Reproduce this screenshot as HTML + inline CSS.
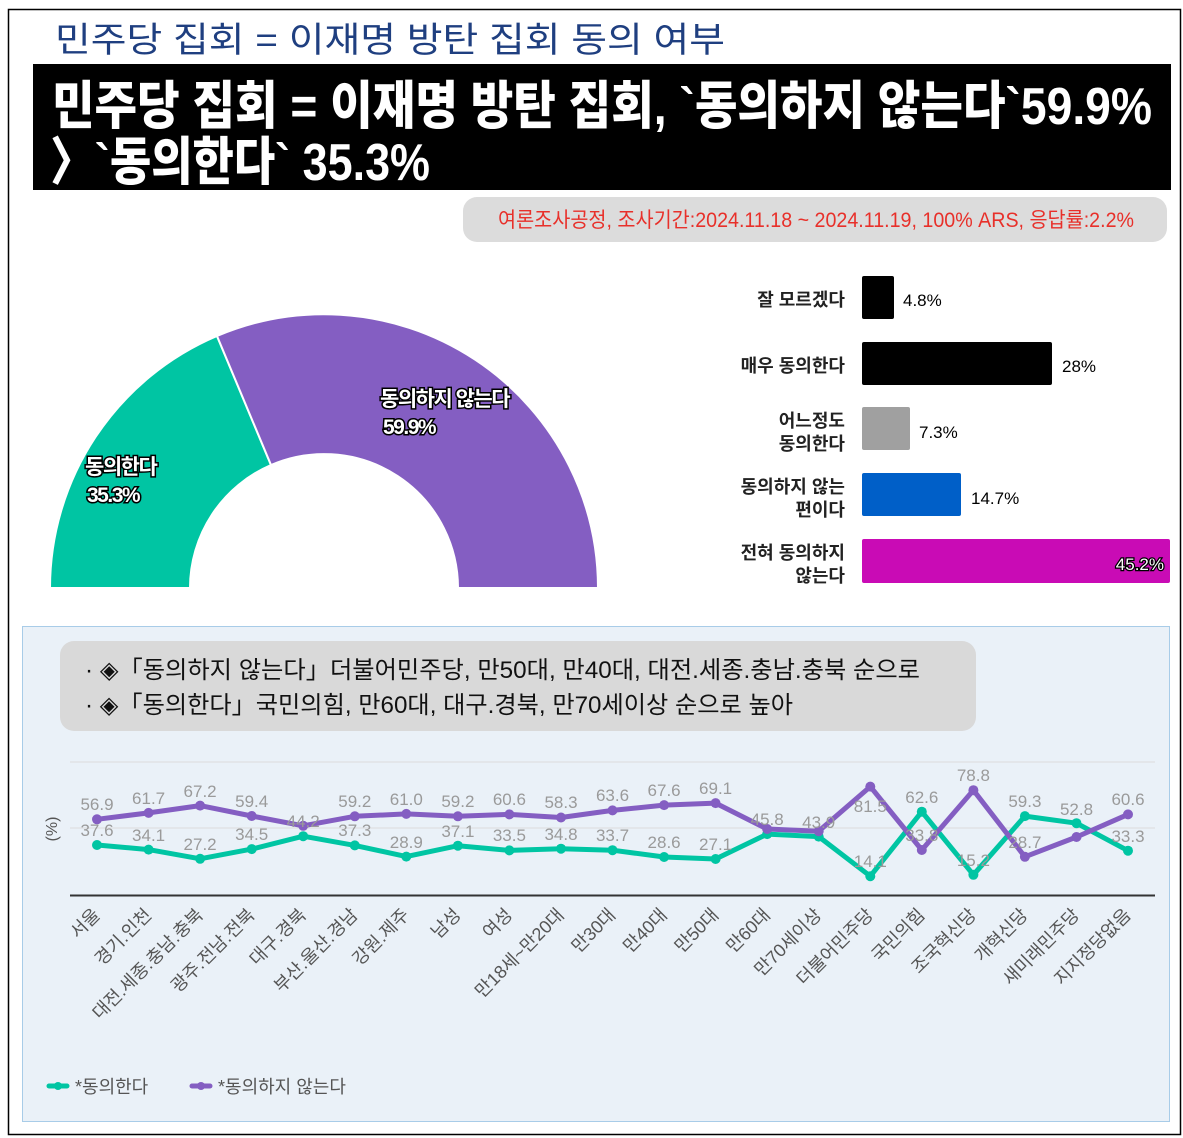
<!DOCTYPE html>
<html><head><meta charset="utf-8"><style>
html,body{margin:0;padding:0;background:#fff;}
svg{display:block;font-family:"Liberation Sans","Noto Sans CJK KR",sans-serif;}
</style></head><body>
<svg width="1183" height="1138" viewBox="0 0 1183 1138" xmlns="http://www.w3.org/2000/svg">
<rect x="8.5" y="9.5" width="1172" height="1125" fill="#fff" stroke="#000" stroke-width="1.5"/>
<text x="55" y="52" font-size="35" fill="#1f3f80" textLength="670" lengthAdjust="spacingAndGlyphs" font-family="Liberation Sans, Noto Sans CJK KR, sans-serif">민주당 집회 = 이재명 방탄 집회 동의 여부</text>
<rect x="33" y="64" width="1138" height="126" fill="#000"/>
<text x="52" y="124" font-size="52" font-weight="900" fill="#fff" textLength="1100" lengthAdjust="spacingAndGlyphs">민주당 집회 = 이재명 방탄 집회, `동의하지 않는다`59.9%</text>
<text x="50" y="180" font-size="52" font-weight="900" fill="#fff" textLength="380" lengthAdjust="spacingAndGlyphs">〉`동의한다` 35.3%</text>
<rect x="463" y="197" width="704" height="45" rx="14" fill="#dcdcdc"/>
<text x="498" y="227" font-size="21" fill="#e8302a" textLength="636" lengthAdjust="spacingAndGlyphs">여론조사공정, 조사기간:2024.11.18 ~ 2024.11.19, 100% ARS, 응답률:2.2%</text>

<path d="M50,588 A274,274 0 0 1 217,336 L271,465 A134,134 0 0 0 190,588 Z" fill="#00c5a3" stroke="#fff" stroke-width="2"/>
<path d="M217,336 A274,274 0 0 1 598,588 L458,588 A134,134 0 0 0 271,465 Z" fill="#845ec2" stroke="#fff" stroke-width="2"/>
<g font-size="21" font-weight="bold" fill="#fff" stroke="#000" stroke-width="3" paint-order="stroke" letter-spacing="-1.5">
<text x="380" y="406">동의하지 않는다</text>
<text x="383" y="434">59.9%</text>
<text x="85" y="474">동의한다</text>
<text x="87" y="502">35.3%</text>
</g>

<g font-size="18" fill="#222" text-anchor="end" font-weight="bold">
<text x="845" y="306">잘 모르겠다</text>
<text x="845" y="372">매우 동의한다</text>
<text x="845" y="427">어느정도</text>
<text x="845" y="450">동의한다</text>
<text x="845" y="493">동의하지 않는</text>
<text x="845" y="516">편이다</text>
<text x="845" y="559">전혀 동의하지</text>
<text x="845" y="582">않는다</text>
</g>
<rect x="862" y="276" width="32" height="43" rx="2" fill="#000"/>
<rect x="862" y="342" width="190" height="43" rx="2" fill="#000"/>
<rect x="862" y="407" width="48" height="43" rx="2" fill="#a0a0a0"/>
<rect x="862" y="473" width="99" height="43" rx="2" fill="#005fc8"/>
<rect x="862" y="539" width="308" height="44" rx="2" fill="#c90bb5"/>
<g font-size="17" fill="#000">
<text x="903" y="306">4.8%</text>
<text x="1062" y="372">28%</text>
<text x="919" y="438">7.3%</text>
<text x="971" y="504">14.7%</text>
</g>
<text x="1164" y="570" font-size="17" fill="#fff" stroke="#000" stroke-width="2.5" paint-order="stroke" text-anchor="end">45.2%</text>

<rect x="22.5" y="626.5" width="1147" height="495" fill="#eaf1f8" stroke="#a8cce8"/>
<rect x="60" y="641" width="916" height="90" rx="14" fill="#d9d9d9"/>
<g font-size="24" fill="#111">
<text x="85" y="678" textLength="835" lengthAdjust="spacingAndGlyphs">· ◈「동의하지 않는다」더불어민주당, 만50대, 만40대, 대전.세종.충남.충북 순으로</text>
<text x="85" y="713" textLength="708" lengthAdjust="spacingAndGlyphs">· ◈「동의한다」국민의힘, 만60대, 대구.경북, 만70세이상 순으로 높아</text>
</g>
<line x1="70" y1="762" x2="1155" y2="762" stroke="#dcdcdc"/>
<line x1="70" y1="828" x2="1155" y2="828" stroke="#dcdcdc"/>
<line x1="70" y1="895.5" x2="1155" y2="895.5" stroke="#333" stroke-width="2"/>
<text transform="translate(57,829) rotate(-90)" font-size="16" fill="#555" text-anchor="middle">(%)</text>

<polyline fill="none" stroke="#00c5a3" stroke-width="5" stroke-linejoin="round" points="97,845 148.6,849.6 200.1,858.8 251.7,849.1 303.2,836.2 354.8,845.4 406.3,856.6 457.9,845.7 509.4,850.4 561,848.7 612.5,850.2 664.1,857 715.6,859 767.2,834.1 818.7,836.6 870.3,876.2 921.8,811.7 973.4,874.8 1024.9,816.1 1076.5,823.2 1128,850.7"/>
<polyline fill="none" stroke="#845ec2" stroke-width="5" stroke-linejoin="round" points="97,819.3 148.6,812.9 200.1,805.6 251.7,816 303.2,825.8 354.8,816.3 406.3,813.9 457.9,816.3 509.4,814.4 561,817.5 612.5,810.4 664.1,805.1 715.6,803.1 767.2,829 818.7,831.2 870.3,786.6 921.8,850 973.4,790.2 1024.9,856.8 1076.5,837 1128,814.4"/>
<g fill="#00c5a3">
<circle cx="97" cy="845" r="5"/><circle cx="148.6" cy="849.6" r="5"/><circle cx="200.1" cy="858.8" r="5"/><circle cx="251.7" cy="849.1" r="5"/><circle cx="303.2" cy="836.2" r="5"/><circle cx="354.8" cy="845.4" r="5"/><circle cx="406.3" cy="856.6" r="5"/><circle cx="457.9" cy="845.7" r="5"/><circle cx="509.4" cy="850.4" r="5"/><circle cx="561" cy="848.7" r="5"/><circle cx="612.5" cy="850.2" r="5"/><circle cx="664.1" cy="857" r="5"/><circle cx="715.6" cy="859" r="5"/><circle cx="767.2" cy="834.1" r="5"/><circle cx="818.7" cy="836.6" r="5"/><circle cx="870.3" cy="876.2" r="5"/><circle cx="921.8" cy="811.7" r="5"/><circle cx="973.4" cy="874.8" r="5"/><circle cx="1024.9" cy="816.1" r="5"/><circle cx="1076.5" cy="823.2" r="5"/><circle cx="1128" cy="850.7" r="5"/>
</g>
<g fill="#845ec2">
<circle cx="97" cy="819.3" r="5"/><circle cx="148.6" cy="812.9" r="5"/><circle cx="200.1" cy="805.6" r="5"/><circle cx="251.7" cy="816" r="5"/><circle cx="303.2" cy="825.8" r="5"/><circle cx="354.8" cy="816.3" r="5"/><circle cx="406.3" cy="813.9" r="5"/><circle cx="457.9" cy="816.3" r="5"/><circle cx="509.4" cy="814.4" r="5"/><circle cx="561" cy="817.5" r="5"/><circle cx="612.5" cy="810.4" r="5"/><circle cx="664.1" cy="805.1" r="5"/><circle cx="715.6" cy="803.1" r="5"/><circle cx="767.2" cy="829" r="5"/><circle cx="818.7" cy="831.2" r="5"/><circle cx="870.3" cy="786.6" r="5"/><circle cx="921.8" cy="850" r="5"/><circle cx="973.4" cy="790.2" r="5"/><circle cx="1024.9" cy="856.8" r="5"/><circle cx="1076.5" cy="837" r="5"/><circle cx="1128" cy="814.4" r="5"/>
</g>
<g font-size="17" fill="#9a9a9a" text-anchor="middle">
<text x="97" y="836">37.6</text><text x="148.6" y="841">34.1</text><text x="200.1" y="850">27.2</text><text x="251.7" y="840">34.5</text><text x="303.2" y="827">44.2</text><text x="354.8" y="836">37.3</text><text x="406.3" y="848">28.9</text><text x="457.9" y="837">37.1</text><text x="509.4" y="841">33.5</text><text x="561" y="840">34.8</text><text x="612.5" y="841">33.7</text><text x="664.1" y="848">28.6</text><text x="715.6" y="850">27.1</text><text x="767.2" y="825">45.8</text><text x="818.7" y="828">43.9</text><text x="870.3" y="867">14.1</text><text x="921.8" y="803">62.6</text><text x="973.4" y="866">15.2</text><text x="1024.9" y="807">59.3</text><text x="1076.5" y="815">52.8</text><text x="1128" y="842">33.3</text>
<text x="97" y="810">56.9</text><text x="148.6" y="804">61.7</text><text x="200.1" y="797">67.2</text><text x="251.7" y="807">59.4</text><text x="354.8" y="807">59.2</text><text x="406.3" y="805">61.0</text><text x="457.9" y="807">59.2</text><text x="509.4" y="805">60.6</text><text x="561" y="808">58.3</text><text x="612.5" y="801">63.6</text><text x="664.1" y="796">67.6</text><text x="715.6" y="794">69.1</text><text x="870.3" y="812">81.5</text><text x="921.8" y="841">33.8</text><text x="973.4" y="781">78.8</text><text x="1024.9" y="848">28.7</text><text x="1128" y="805">60.6</text>
</g>
<g font-size="18" fill="#555" text-anchor="end">
<text transform="translate(101,916) rotate(-45)">서울</text>
<text transform="translate(152.6,916) rotate(-45)">경기.인천</text>
<text transform="translate(204.1,916) rotate(-45)">대전.세종.충남.충북</text>
<text transform="translate(255.7,916) rotate(-45)">광주.전남.전북</text>
<text transform="translate(307.2,916) rotate(-45)">대구.경북</text>
<text transform="translate(358.8,916) rotate(-45)">부산.울산.경남</text>
<text transform="translate(410.3,916) rotate(-45)">강원.제주</text>
<text transform="translate(461.9,916) rotate(-45)">남성</text>
<text transform="translate(513.4,916) rotate(-45)">여성</text>
<text transform="translate(565,916) rotate(-45)">만18세~만20대</text>
<text transform="translate(616.5,916) rotate(-45)">만30대</text>
<text transform="translate(668.1,916) rotate(-45)">만40대</text>
<text transform="translate(719.6,916) rotate(-45)">만50대</text>
<text transform="translate(771.2,916) rotate(-45)">만60대</text>
<text transform="translate(822.7,916) rotate(-45)">만70세이상</text>
<text transform="translate(874.3,916) rotate(-45)">더불어민주당</text>
<text transform="translate(925.8,916) rotate(-45)">국민의힘</text>
<text transform="translate(977.4,916) rotate(-45)">조국혁신당</text>
<text transform="translate(1028.9,916) rotate(-45)">개혁신당</text>
<text transform="translate(1080.5,916) rotate(-45)">새미래민주당</text>
<text transform="translate(1132,916) rotate(-45)">지지정당없음</text>
</g>
<line x1="49" y1="1086" x2="67" y2="1086" stroke="#00c5a3" stroke-width="5" stroke-linecap="round"/>
<circle cx="58" cy="1086" r="4" fill="#00c5a3"/>
<text x="75" y="1093" font-size="18" fill="#555">*동의한다</text>
<line x1="192" y1="1086" x2="210" y2="1086" stroke="#845ec2" stroke-width="5" stroke-linecap="round"/>
<circle cx="201" cy="1086" r="4" fill="#845ec2"/>
<text x="218" y="1093" font-size="18" fill="#555">*동의하지 않는다</text>
</svg>
</body></html>
